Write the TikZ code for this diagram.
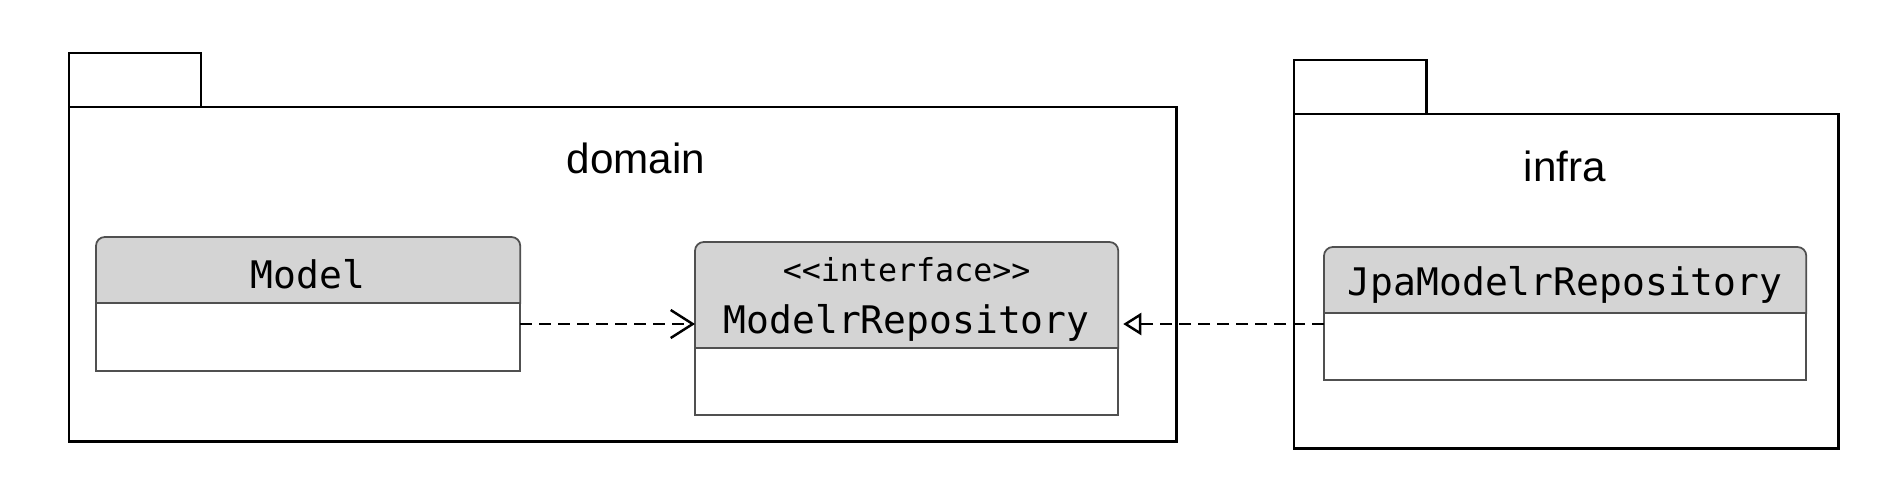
\documentclass[tikz,border=0pt]{standalone}
\usepackage{fontspec}
\setmainfont{Liberation Sans}
\newfontfamily\classfont{DejaVu Sans Mono}
\usepackage{xcolor}
\definecolor{headfill}{RGB}{212, 212, 212}
\definecolor{classline}{RGB}{80, 80, 80}
\usepackage{tikz}
\usetikzlibrary{arrows.meta,positioning}

\begin{document}
\begin{tikzpicture}[x=0.01cm, y=-0.01cm,
  pkgbox/.style={draw=black, line width=0.8pt, anchor=north west, inner sep=0pt, outer sep=0pt},
  pkgtab/.style={draw=black, line width=0.8pt, anchor=south west, inner sep=0pt, outer sep=0pt, minimum width=1.32cm, minimum height=0.54cm},
  pkgname/.style={font=\fontsize{12}{14}\selectfont, inner sep=0pt},
  classhead/.style={draw=classline, fill=headfill, line width=0.5pt, rounded corners=2.5pt, font=\classfont\fontsize{10.8}{15}\selectfont, align=center, inner sep=0pt, outer sep=0pt, anchor=north west},
  classbody/.style={draw=classline, fill=white, line width=0.5pt, inner sep=0pt, outer sep=0pt, below=-2.5pt of #1},
  depend/.style={-{Straight Barb[length=2.2mm, width=2.8mm]}, line width=0.7pt, dash pattern=on 3.4pt off 2pt},
  realize/.style={-{Triangle[open, length=1.8mm, width=2.2mm]}, line width=0.7pt, dash pattern=on 3.4pt off 2pt, shorten >=0.5mm}
]
\useasboundingbox[fill=white] (0,0) rectangle (1888,490);

% packages
\node[pkgbox, minimum width=11.07cm, minimum height=3.34cm] (domain) at (69,107) {};
\node[pkgtab] (domaintab) at (domain.north west) {};
\node[pkgname] (domainname) at (636,158) {domain};

\node[pkgbox, minimum width=5.44cm, minimum height=3.34cm] (infra) at (1294,114) {};
\node[pkgtab] (infratab) at (infra.north west) {};
\node[pkgname] (infraname) at (1565,166) {infra};

% classes (head runs 2.5pt under the body to hide its lower corners)
\node[classhead, minimum width=4.24cm, minimum height=0.748cm] (model) at (96,237) {Model};
\node[classbody=model, minimum width=4.24cm, minimum height=0.68cm] (modelbody) {};

\node[classhead, minimum width=4.23cm, minimum height=1.148cm] (repo) at (695,242) {{\fontsize{9}{11}\selectfont <{}<interface>{}>}\\ModelrRepository};
\node[classbody=repo, minimum width=4.23cm, minimum height=0.67cm] (repobody) {};

\node[classhead, minimum width=4.82cm, minimum height=0.748cm] (jpa) at (1324,247) {JpaModelrRepository};
\node[classbody=jpa, minimum width=4.82cm, minimum height=0.67cm] (jpabody) {};

\coordinate (lane) at (0,324);
\draw[depend] (modelbody.east |- lane) -- (repo.west |- lane);
\draw[realize] (jpabody.west |- lane) -- (repo.east |- lane);
\end{tikzpicture}
\end{document}
